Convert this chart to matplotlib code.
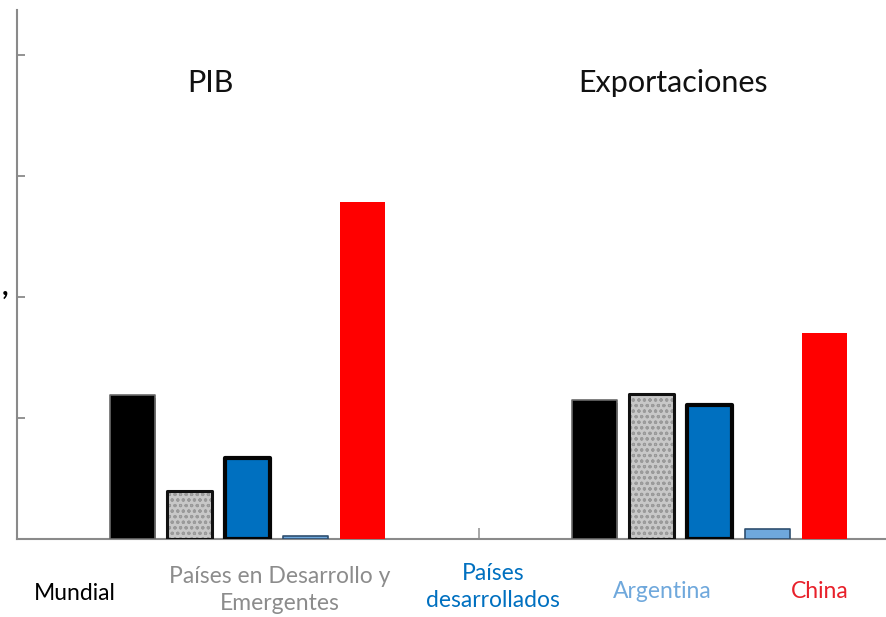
import matplotlib
matplotlib.use("Agg")
import matplotlib.pyplot as plt
import matplotlib.patheffects as pe
import numpy as np

plt.rcParams['font.family'] = ['Lato', 'DejaVu Sans']

# Data: average annual growth by indicator and region
groups = ["PIB", "Exportaciones"]
series = ["Mundial", "Países en Desarrollo y\nEmergentes", "Países\ndesarrollados",
          "Argentina", "China"]
mundial = [2.38, 2.30]
desarrollo = [0.79, 2.40]
desarrollados = [1.34, 2.21]
argentina = [0.05, 0.17]
china = [5.57, 3.40]
yticks = [0, 2, 4, 6, 8]

values = [mundial, desarrollo, desarrollados, argentina, china]
label_colors = ["#000000", "#8c8c8c", "#0070c0", "#6fa8dc", "#e8202a"]

fig = plt.figure(figsize=(8.86, 6.17), dpi=100)
ax = fig.add_axes([16.5 / 886, 78 / 617, 924 / 886, 529 / 617])

x = np.arange(len(groups))
step = 0.1245
width = 0.0974
shadow = [pe.SimplePatchShadow(offset=(1, -2.5), shadow_rgbFace="#555555", alpha=0.7),
          pe.Normal()]

for i, vals in enumerate(values):
    xpos = x + (i - 2) * step
    if i == 0:
        ax.bar(xpos, vals, width, color="#000000", edgecolor="#6a6a6a", linewidth=1.2,
               joinstyle="round", path_effects=shadow, zorder=3)
    elif i == 1:
        plt.rcParams['hatch.color'] = "#9a9a9a"
        plt.rcParams['hatch.linewidth'] = 0.8
        ax.bar(xpos, vals, width, color="#c8c8c8", hatch="ooo", edgecolor="#9a9a9a",
               linewidth=0, zorder=3, path_effects=shadow)
        ax.bar(xpos, vals, width, fill=False, edgecolor="#111111", linewidth=2.2,
               joinstyle="round", zorder=4)
    elif i == 2:
        ax.bar(xpos, vals, width, color="#0070c0", edgecolor="#050505", linewidth=3.0,
               joinstyle="round", path_effects=shadow, zorder=3)
    elif i == 3:
        ax.bar(xpos, vals, width, color="#6fa8dc", edgecolor="#2f4f6f", linewidth=1.2,
               joinstyle="round", zorder=3)
    else:
        ax.bar(xpos, vals, width, color="#ff0000", linewidth=0, zorder=3)

ax.set_xlim(-0.5, 1.5)
ax.set_ylim(0, 8.74)
ax.set_yticks(yticks)
ax.set_yticklabels([])
ax.set_xticks([0.5])
ax.set_xticklabels([])
ax.tick_params(axis="y", direction="in", length=6, width=1.3, color="#8a8a8a")
ax.tick_params(axis="x", direction="in", length=8, width=1.3, color="#a0a0a0")
for side in ("top", "right"):
    ax.spines[side].set_visible(False)
for side in ("left", "bottom"):
    ax.spines[side].set_color("#8a8a8a")
    ax.spines[side].set_linewidth(1.5)
ax.set_facecolor("white")

# Group headings
ax.text(-0.08, 0.862, "PIB", transform=ax.get_xaxis_transform(),
        ha="center", va="center", fontsize=22, color="#111111")
ax.text(0.922, 0.862, "Exportaciones", transform=ax.get_xaxis_transform(),
        ha="center", va="center", fontsize=22, color="#111111")

# Series labels below the axis
label_x = [75, 280, 493, 662, 820]
label_y = [594, 590, 587, 591, 591]
for name, col, lx, ly in zip(series, label_colors, label_x, label_y):
    fig.text(lx / 886, 1 - ly / 617, name, ha="center", va="center",
             fontsize=16.5, color=col, linespacing=1.38)

fig.text(5 / 886, 1 - 287 / 617, ",", ha="center", va="center",
         fontsize=20, fontweight="bold", color="#000000")

fig.savefig("out.png", dpi=100)
